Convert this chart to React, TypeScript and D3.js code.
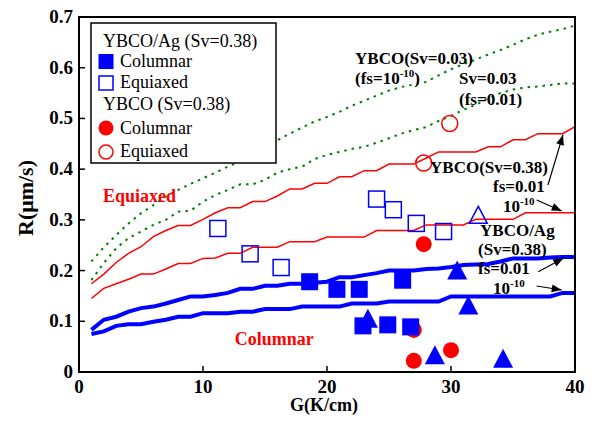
import React from "react";
import * as d3 from "d3";

const G = [1,2,3,4,5,6,7,8,9,10,11,12,13,14,15,16,17,18,19,20,21,22,23,24,25,26,27,28,29,30,31,32,33,34,35,36,37,38,39,40];

const greenUpper = [0.218,0.246,0.27,0.293,0.313,0.329,0.346,0.359,0.371,0.382,0.393,0.405,0.415,0.43,0.444,0.457,0.47,0.482,0.494,0.503,0.513,0.525,0.535,0.545,0.555,0.562,0.567,0.572,0.585,0.597,0.607,0.616,0.626,0.635,0.645,0.656,0.665,0.671,0.676,0.683];
const greenLower = [0.181,0.215,0.244,0.264,0.277,0.29,0.3,0.316,0.318,0.336,0.349,0.359,0.37,0.37,0.379,0.393,0.4,0.405,0.42,0.428,0.434,0.44,0.444,0.452,0.461,0.47,0.477,0.483,0.495,0.505,0.517,0.527,0.54,0.55,0.557,0.561,0.563,0.566,0.569,0.569];
const redUpper = [0.174,0.193,0.216,0.234,0.247,0.267,0.279,0.289,0.289,0.301,0.314,0.324,0.324,0.336,0.336,0.347,0.361,0.361,0.372,0.372,0.385,0.385,0.397,0.397,0.41,0.41,0.41,0.422,0.434,0.434,0.434,0.434,0.444,0.444,0.458,0.458,0.47,0.47,0.47,0.484];
const redLower = [0.145,0.165,0.174,0.183,0.193,0.193,0.203,0.214,0.214,0.224,0.225,0.234,0.234,0.246,0.246,0.246,0.257,0.257,0.257,0.266,0.266,0.266,0.266,0.279,0.279,0.279,0.279,0.29,0.29,0.29,0.29,0.301,0.301,0.301,0.301,0.314,0.314,0.314,0.314,0.314];
const blueUpper = [0.083,0.103,0.109,0.119,0.126,0.129,0.135,0.142,0.149,0.149,0.152,0.156,0.164,0.164,0.17,0.17,0.174,0.174,0.176,0.178,0.187,0.187,0.191,0.195,0.2,0.2,0.2,0.203,0.204,0.207,0.211,0.212,0.213,0.218,0.224,0.224,0.224,0.226,0.227,0.227];
const blueLower = [0.075,0.08,0.091,0.094,0.094,0.099,0.103,0.109,0.109,0.116,0.116,0.116,0.119,0.119,0.124,0.124,0.124,0.129,0.129,0.129,0.129,0.135,0.135,0.135,0.139,0.139,0.139,0.139,0.139,0.149,0.149,0.149,0.149,0.149,0.149,0.149,0.149,0.149,0.156,0.156];

const agColumnarSquares: [number, number][] = [[18.6,0.178],[20.8,0.163],[22.6,0.163],[26.1,0.181],[22.9,0.091],[24.9,0.093],[26.75,0.089]];
const agColumnarTriangles: [number, number][] = [[23.3,0.106],[30.5,0.201],[31.4,0.132],[28.7,0.034],[34.2,0.027]];
const agEquiaxedSquares: [number, number][] = [[11.2,0.283],[13.8,0.233],[16.3,0.206],[24.0,0.341],[25.35,0.32],[27.2,0.293],[29.4,0.277]];
const agEquiaxedTriangles: [number, number][] = [[32.2,0.31]];
const ybcoColumnar: [number, number][] = [[27.8,0.252],[27.0,0.083],[27.0,0.022],[30.0,0.043]];
const ybcoEquiaxed: [number, number][] = [[29.9,0.49],[27.8,0.412]];

const xTicks = [0, 10, 20, 30, 40];
const yTicks = [0, 0.1, 0.2, 0.3, 0.4, 0.5, 0.6, 0.7];

// annotation arrows in data coordinates
const arrows: [number, number, number, number][] = [
  [37.82, 0.3688, 39.03, 0.4675],
  [36.91, 0.3393, 38.93, 0.3176],
  [37.04, 0.1978, 39.06, 0.2243],
  [36.91, 0.1696, 38.93, 0.1617],
];

const SERIF = "'Liberation Serif', 'Times New Roman', serif";

export default function App() {
  const W = 598, H = 423;
  const x = d3.scaleLinear().domain([0, 40]).range([79, 575]);
  const y = d3.scaleLinear().domain([0, 0.7]).range([372, 17]);
  const line = (vals: number[]) =>
    d3.line<number>().x((_, i) => x(G[i])).y((v) => y(v))(vals) || "";

  const tri = (cx: number, cy: number, w: number, h: number) =>
    `M${cx - w / 2},${cy + h / 2}L${cx},${cy - h / 2}L${cx + w / 2},${cy + h / 2}Z`;

  const arrowHead = (x1: number, y1: number, x2: number, y2: number) => {
    const a = Math.atan2(y2 - y1, x2 - x1);
    const L = 10, Wd = 4;
    const bx = x2 - L * Math.cos(a), by = y2 - L * Math.sin(a);
    const px = -Math.sin(a) * Wd, py = Math.cos(a) * Wd;
    return `M${x2},${y2}L${bx + px},${by + py}L${bx - px},${by - py}Z`;
  };

  const ann = { fontFamily: SERIF, fontWeight: "bold" as const, fontSize: 17, fill: "#000" };
  const sup = (t: string) => (
    <tspan dy={-7} fontSize={11}>{t}</tspan>
  );

  return (
    <svg width={W} height={H} style={{ position: "absolute", left: 0, top: 0, background: "#fff" }}>
      <rect x={0} y={0} width={W} height={H} fill="#fff" />
      {/* curves */}
      <path d={line(greenUpper)} fill="none" stroke="#008000" strokeWidth={2} strokeDasharray="2.5,5" />
      <path d={line(greenLower)} fill="none" stroke="#008000" strokeWidth={2} strokeDasharray="2.5,5" />
      <path d={line(redUpper)} fill="none" stroke="#ff0000" strokeWidth={1.5} />
      <path d={line(redLower)} fill="none" stroke="#ff0000" strokeWidth={1.5} />
      <path d={line(blueUpper)} fill="none" stroke="#0000ff" strokeWidth={4} />
      <path d={line(blueLower)} fill="none" stroke="#0000ff" strokeWidth={4} />

      {/* markers */}
      {ybcoColumnar.map(([g, r], i) => (
        <circle key={"rc" + i} cx={x(g)} cy={y(r)} r={8} fill="#ff0000" />
      ))}
      {ybcoEquiaxed.map(([g, r], i) => (
        <circle key={"ro" + i} cx={x(g)} cy={y(r)} r={8} fill="none" stroke="#ff0000" strokeWidth={1.5} />
      ))}
      {agEquiaxedSquares.map(([g, r], i) => (
        <rect key={"bo" + i} x={x(g) - 8} y={y(r) - 8} width={16} height={16} fill="none" stroke="#0000ff" strokeWidth={1.5} />
      ))}
      {agColumnarSquares.map(([g, r], i) => (
        <rect key={"bs" + i} x={x(g) - 8.5} y={y(r) - 8.5} width={17} height={17} fill="#0000ff" />
      ))}
      {agColumnarTriangles.map(([g, r], i) => (
        <path key={"bt" + i} d={tri(x(g), y(r), 20, 19)} fill="#0000ff" />
      ))}
      {agEquiaxedTriangles.map(([g, r], i) => (
        <path key={"bto" + i} d={tri(x(g), y(r), 18, 17)} fill="none" stroke="#0000ff" strokeWidth={1.5} />
      ))}

      {/* frame */}
      <rect x={79} y={17} width={496} height={355} fill="none" stroke="#000" strokeWidth={2} />
      {xTicks.slice(1, -1).map((t) => (
        <line key={"xt" + t} x1={x(t)} x2={x(t)} y1={372} y2={366} stroke="#000" strokeWidth={1.5} />
      ))}
      {yTicks.slice(1, -1).map((t) => (
        <line key={"yt" + t} x1={79} x2={85} y1={y(t)} y2={y(t)} stroke="#000" strokeWidth={1.5} />
      ))}
      {xTicks.map((t) => (
        <text key={"xl" + t} x={x(t)} y={393} textAnchor="middle" fontFamily={SERIF} fontWeight="bold" fontSize={19}>
          {t}
        </text>
      ))}
      {yTicks.map((t) => (
        <text key={"yl" + t} x={73} y={y(t) + 6} textAnchor="end" fontFamily={SERIF} fontWeight="bold" fontSize={19}>
          {t === 0 ? "0" : t.toFixed(1)}
        </text>
      ))}
      <text x={324} y={411} textAnchor="middle" fontFamily={SERIF} fontWeight="bold" fontSize={18}>
        G(K/cm)
      </text>
      <text transform="translate(33,198) rotate(-90)" textAnchor="middle" fontFamily={SERIF} fontWeight="bold" fontSize={22}>
        R(μm/s)
      </text>

      {/* legend */}
      <rect x={91} y={23} width={185} height={140} fill="#fff" stroke="#000" strokeWidth={1.5} />
      <g fontFamily={SERIF} fontSize={18}>
        <text x={103} y={47}>YBCO/Ag (Sv=0.38)</text>
        <rect x={98.5} y={54} width={15} height={15} fill="#0000ff" />
        <text x={120} y={67}>Columnar</text>
        <rect x={99} y={76} width={14} height={14} fill="none" stroke="#0000ff" strokeWidth={1.5} />
        <text x={120} y={88}>Equiaxed</text>
        <text x={103} y={110}>YBCO (Sv=0.38)</text>
        <circle cx={106} cy={128} r={7.5} fill="#ff0000" />
        <text x={120} y={134}>Columnar</text>
        <circle cx={106} cy={152} r={7} fill="none" stroke="#ff0000" strokeWidth={1.5} />
        <text x={120} y={157}>Equiaxed</text>
      </g>

      {/* annotations */}
      <text x={x(22.26)} y={y(0.6075)} {...ann}>YBCO(Sv=0.03)</text>
      <text x={x(22.26)} y={y(0.568)} {...ann}>(fs=10{sup("-10")}<tspan dy={7} fontSize={17}>)</tspan></text>
      <text x={x(30.65)} y={y(0.568)} {...ann}>Sv=0.03</text>
      <text x={x(30.65)} y={y(0.5266)} {...ann}>(fs=0.01)</text>
      <text x={x(28.31)} y={y(0.393)} {...ann}>YBCO(Sv=0.38)</text>
      <text x={x(33.39)} y={y(0.3556)} {...ann}>fs=0.01</text>
      <text x={x(34.19)} y={y(0.316)} {...ann}>10{sup("-10")}</text>
      <text x={x(32.34)} y={y(0.2688)} {...ann}>YBCO/Ag</text>
      <text x={x(32.18)} y={y(0.2308)} {...ann}>(Sv=0.38)</text>
      <text x={x(32.18)} y={y(0.1933)} {...ann}>fs=0.01</text>
      <text x={x(33.39)} y={y(0.1538)} {...ann}>10{sup("-10")}</text>
      <text x={x(1.94)} y={y(0.3347)} fontFamily={SERIF} fontWeight="bold" fontSize={18} fill="#ff0000">Equiaxed</text>
      <text x={x(12.56)} y={y(0.0533)} fontFamily={SERIF} fontWeight="bold" fontSize={18} fill="#ff0000">Columnar</text>

      {arrows.map(([g1, r1, g2, r2], i) => {
        const x1 = x(g1), y1 = y(r1), x2 = x(g2), y2 = y(r2);
        return (
          <g key={"ar" + i}>
            <line x1={x1} y1={y1} x2={x2} y2={y2} stroke="#000" strokeWidth={1.2} />
            <path d={arrowHead(x1, y1, x2, y2)} fill="#000" />
          </g>
        );
      })}
    </svg>
  );
}
